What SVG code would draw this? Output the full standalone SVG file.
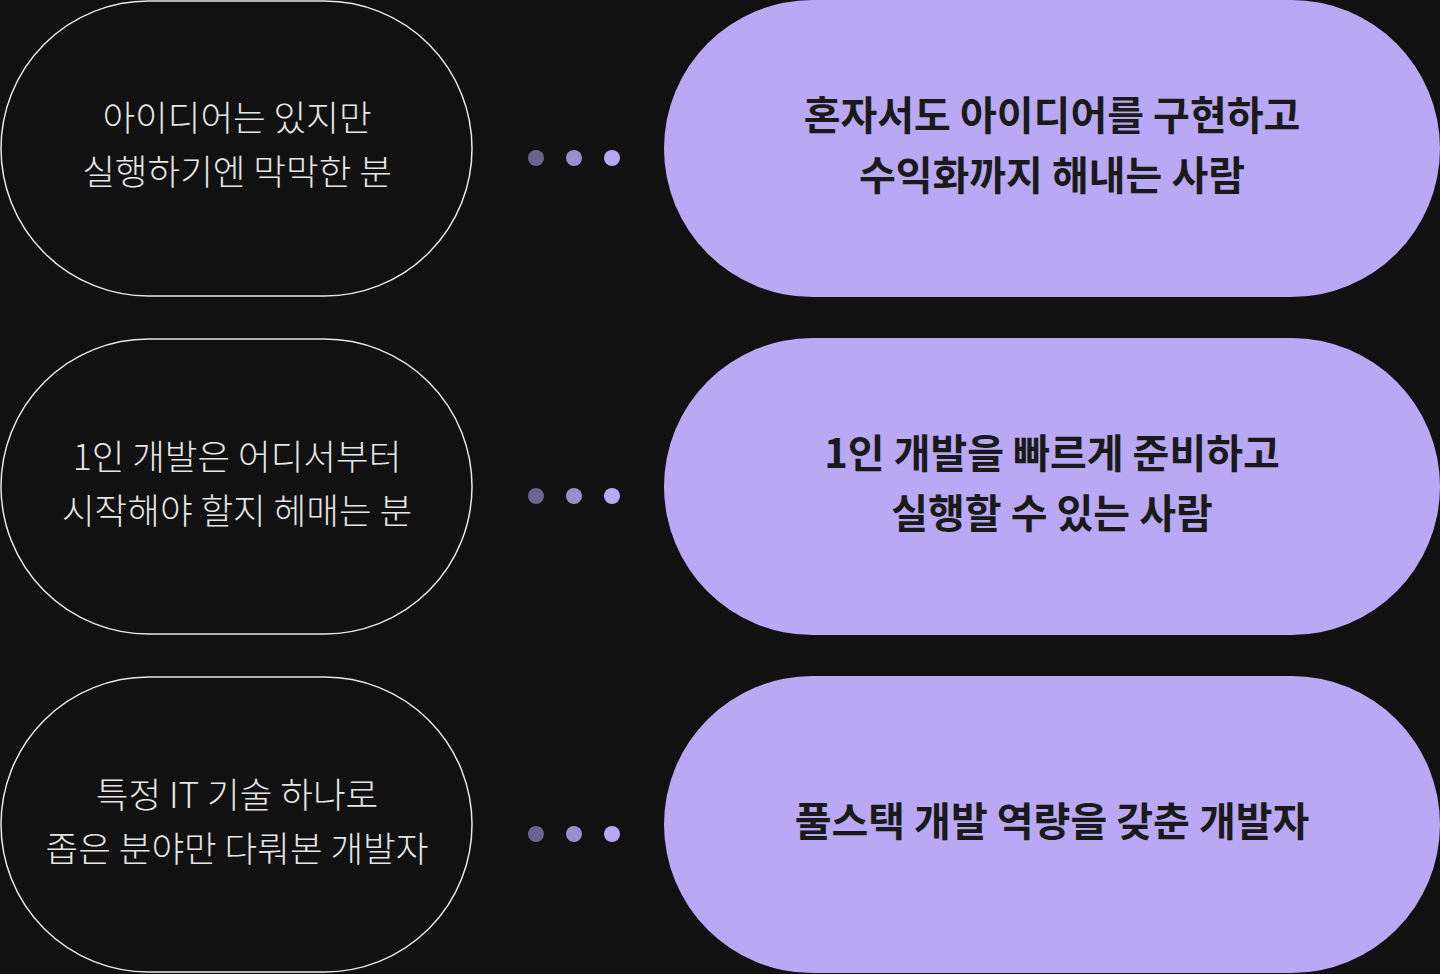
<svg xmlns="http://www.w3.org/2000/svg" width="1440" height="974" viewBox="0 0 1440 974">
<defs>
<linearGradient id="lg" x1="0" x2="1"><stop offset="0" stop-color="#e6e6e6"/><stop offset="1" stop-color="#c6b8f3"/></linearGradient>
<style>
.lp{fill:none;stroke:#e8e8e8;stroke-width:1.5}
.rp{fill:#b9a9f4}
.ln{stroke:url(#lg);stroke-width:2}
.lt{font-family:"Noto Sans CJK KR",sans-serif;font-size:35.5px;font-weight:300;fill:#e6e6e6;text-anchor:middle}
.rt{font-family:"Noto Sans CJK KR",sans-serif;font-size:40px;font-weight:700;fill:#1a1a1a;text-anchor:middle}
.d1{fill:#6b6390}.d2{fill:#9a8fce}.d3{fill:#b9a9f5}
</style>
</defs>
<rect width="1440" height="974" fill="#111111"/>
<g id="connectors">
<line class="ln" x1="148" y1="1" x2="800" y2="1"/><line class="ln" x1="148" y1="296" x2="800" y2="296"/>
<line class="ln" x1="148" y1="339" x2="800" y2="339"/><line class="ln" x1="148" y1="634" x2="800" y2="634"/>
<line class="ln" x1="148" y1="677" x2="800" y2="677"/><line class="ln" x1="148" y1="972" x2="800" y2="972"/>
<g><circle class="d1" cx="536" cy="158" r="8"/><circle class="d2" cx="574" cy="158" r="8"/><circle class="d3" cx="612" cy="158" r="8"/></g>
<g transform="translate(0,338)"><circle class="d1" cx="536" cy="158" r="8"/><circle class="d2" cx="574" cy="158" r="8"/><circle class="d3" cx="612" cy="158" r="8"/></g>
<g transform="translate(0,676)"><circle class="d1" cx="536" cy="158" r="8"/><circle class="d2" cx="574" cy="158" r="8"/><circle class="d3" cx="612" cy="158" r="8"/></g>
</g>
<g id="left1"><rect class="lp" x="1" y="1" width="471" height="295" rx="147.5" fill="#111"/><text class="lt" x="237" y="131">아이디어는 있지만</text><text class="lt" x="237" y="185">실행하기엔 막막한 분</text></g>
<g id="right1"><rect class="rp" x="664" y="0" width="776" height="297" rx="148.5"/><text class="rt" x="1052" y="130">혼자서도 아이디어를 구현하고</text><text class="rt" x="1052" y="190">수익화까지 해내는 사람</text></g>
<g id="left2"><rect class="lp" x="1" y="339" width="471" height="295" rx="147.5" fill="#111"/><text class="lt" x="237" y="470">1인 개발은 어디서부터</text><text class="lt" x="237" y="524">시작해야 할지 헤매는 분</text></g>
<g id="right2"><rect class="rp" x="664" y="338" width="776" height="297" rx="148.5"/><text class="rt" x="1052" y="468">1인 개발을 빠르게 준비하고</text><text class="rt" x="1052" y="528">실행할 수 있는 사람</text></g>
<g id="left3"><rect class="lp" x="1" y="677" width="471" height="295" rx="147.5" fill="#111"/><text class="lt" x="237" y="808">특정 IT 기술 하나로</text><text class="lt" x="237" y="862">좁은 분야만 다뤄본 개발자</text></g>
<g id="right3"><rect class="rp" x="664" y="676" width="776" height="297" rx="148.5"/><text class="rt" x="1052" y="836">풀스택 개발 역량을 갖춘 개발자</text></g>
</svg>
